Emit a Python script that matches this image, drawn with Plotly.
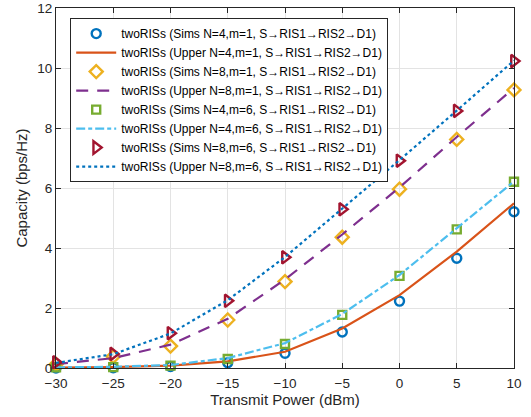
import plotly.graph_objects as go

x_power = [-30, -25, -20, -15, -10, -5, 0, 5, 10]

sims_n4_m1 = [0.0, 0.01, 0.05, 0.18, 0.49, 1.20, 2.23, 3.66, 5.21]
upper_n4_m1 = [0.01, 0.03, 0.08, 0.22, 0.54, 1.32, 2.43, 3.88, 5.49]
sims_n8_m1 = [0.12, 0.38, 0.73, 1.60, 2.88, 4.36, 5.96, 7.62, 9.27]
upper_n8_m1 = [0.13, 0.33, 0.78, 1.64, 2.95, 4.45, 6.02, 7.70, 9.33]
sims_n4_m6 = [0.02, 0.03, 0.08, 0.30, 0.80, 1.77, 3.07, 4.62, 6.21]
upper_n4_m6 = [0.02, 0.04, 0.10, 0.33, 0.83, 1.80, 3.10, 4.65, 6.22]
sims_n8_m6 = [0.19, 0.47, 1.16, 2.24, 3.69, 5.29, 6.91, 8.57, 10.23]
upper_n8_m6 = [0.17, 0.46, 1.15, 2.26, 3.70, 5.30, 6.93, 8.58, 10.25]

x_ticks = [-30, -25, -20, -15, -10, -5, 0, 5, 10]
y_ticks = [0, 2, 4, 6, 8, 10, 12]

path = "S\u2192RIS1\u2192RIS2\u2192D1"
names = [
    f"twoRISs (Sims N=4,m=1, {path})",
    f"twoRISs (Upper N=4,m=1, {path})",
    f"twoRISs (Sims N=8,m=1, {path})",
    f"twoRISs (Upper N=8,m=1, {path})",
    f"twoRISs (Sims N=4,m=6, {path})",
    f"twoRISs (Upper N=4,m=6, {path})",
    f"twoRISs (Sims N=8,m=6, {path})",
    f"twoRISs (Upper N=8,m=6, {path})",
]

fig = go.Figure()

def add_marker(y, name, symbol, color, size=9):
    fig.add_trace(go.Scatter(
        x=x_power, y=y, name=name, mode="markers",
        marker=dict(symbol=symbol, size=size, color=color,
                    line=dict(color=color, width=2.4)),
        cliponaxis=False))

def add_line(y, name, color, dash):
    fig.add_trace(go.Scatter(
        x=x_power, y=y, name=name, mode="lines",
        line=dict(color=color, width=2.2, dash=dash), cliponaxis=False))

add_marker(sims_n4_m1, names[0], "circle-open", "#0072BD")
add_line(upper_n4_m1, names[1], "#D95319", "solid")
add_marker(sims_n8_m1, names[2], "diamond-open", "#EDB120", 10)
add_line(upper_n8_m1, names[3], "#7E2F8E", "12px,9px")
add_marker(sims_n4_m6, names[4], "square-open", "#77AC30", 8)
add_line(upper_n4_m6, names[5], "#4DBEEE", "9px,3px,4px,3px")
add_marker(sims_n8_m6, names[6], "triangle-right-open", "#A2142F", 11)
add_line(upper_n8_m6, names[7], "#0072BD", "dot")

axis_common = dict(
    showgrid=True, gridcolor="#e3e3e3", gridwidth=1,
    showline=True, linecolor="#262626", linewidth=1, mirror="ticks",
    ticks="inside", ticklen=5, tickcolor="#262626",
    tickfont=dict(family="Liberation Sans, Arial", size=13.5, color="#262626"),
    zeroline=False, automargin=False,
)

fig.update_layout(
    width=531, height=417,
    margin=dict(l=56, r=17, t=8, b=49),
    paper_bgcolor="white", plot_bgcolor="white",
    font=dict(family="Liberation Sans, Arial", color="#262626"),
    xaxis=dict(range=[-30, 10], tickvals=x_ticks, ticklabelstandoff=3,
               title=dict(text="Transmit Power (dBm)", standoff=4,
                          font=dict(size=15, color="#262626")),
               **axis_common),
    yaxis=dict(range=[0, 12], tickvals=y_ticks,
               title=dict(text="Capacity (bps/Hz)", standoff=6,
                          font=dict(size=15, color="#262626")),
               **axis_common),
    legend=dict(x=0.031, y=0.972, xanchor="left", yanchor="top",
                bgcolor="white", bordercolor="#262626", borderwidth=1,
                font=dict(family="Liberation Sans, Arial", size=12, color="#000000"),
                tracegroupgap=0, itemwidth=40),
    showlegend=True,
)

fig.write_html("out.html", config={"displayModeBar": False},
               post_script="document.body.style.margin='0px';")
